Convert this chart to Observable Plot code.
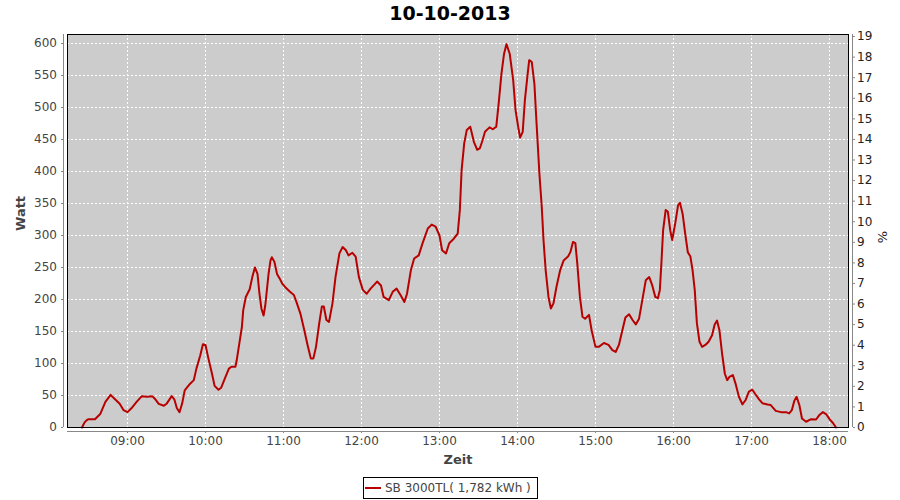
<!DOCTYPE html>
<html>
<head>
<meta charset="utf-8">
<script src="https://cdn.jsdelivr.net/npm/d3@7"></script>
<script src="https://cdn.jsdelivr.net/npm/@observablehq/plot@0.6"></script>
<style>
  html, body { margin: 0; padding: 0; background: #fff; }
  body { width: 900px; height: 500px; position: relative; overflow: hidden; font-family: "DejaVu Sans", sans-serif; }
  #title { position: absolute; left: 0; top: 0; width: 900px; height: 26px; line-height: 26px; text-align: center; font-weight: bold; font-size: 19px; color: #000; }
  #chart { position: absolute; left: 0; top: 28px; }
  #legend { position: absolute; left: 363px; top: 477px; width: 175px; height: 22px; box-sizing: border-box; border: 1px solid #000; font-size: 12px; color: #444; line-height: 20px; white-space: nowrap; }
  #legend .sw { display: inline-block; width: 16px; height: 2px; background: #b80000; vertical-align: middle; margin: 0 4px 0 1px; position: relative; top: -1px; }
</style>
</head>
<body>
<div id="title"></div>
<div id="chart"></div>
<div id="legend"><span class="sw"></span><span id="legendText"></span></div>
<script>
const chartTitle = "10-10-2013";
const seriesName = "SB 3000TL( 1,782 kWh )";
const xLabel = "Zeit";
const yLabel = "Watt";
const y2Label = "%";

const times = [
  "08:25:00","08:27:00","08:29:00","08:30:00","08:35:00","08:39:00","08:43:00","08:47:00","08:50:00","08:54:00",
  "08:57:00","09:00:00","09:03:00","09:07:00","09:11:00","09:15:00","09:19:00","09:21:00","09:24:00","09:28:00",
  "09:30:00","09:34:00","09:36:00","09:38:00","09:40:00","09:42:00","09:44:00","09:48:00","09:51:00","09:53:00",
  "09:56:00","09:58:00","10:00:00","10:02:00","10:05:00","10:07:00","10:10:00","10:12:00","10:15:00","10:18:00",
  "10:20:00","10:23:00","10:24:00","10:26:00","10:28:00","10:29:00","10:31:00","10:34:00","10:36:00","10:38:00",
  "10:40:00","10:41:30","10:43:00","10:44:40","10:46:00","10:48:30","10:50:00","10:51:00","10:53:00","10:55:00",
  "10:57:00","10:59:00","11:01:00","11:05:00","11:08:00","11:10:00","11:13:00","11:16:00","11:18:30","11:21:00",
  "11:23:00","11:25:00","11:27:30","11:29:30","11:31:00","11:33:00","11:35:00","11:37:40","11:40:00","11:43:00",
  "11:45:30","11:48:00","11:50:00","11:53:00","11:55:30","11:58:00","12:01:00","12:04:00","12:07:00","12:12:00",
  "12:15:00","12:17:00","12:21:00","12:24:00","12:27:00","12:30:00","12:33:00","12:35:00","12:38:00","12:40:30",
  "12:44:00","12:47:00","12:51:00","12:54:00","12:57:00","13:00:00","13:02:00","13:05:00","13:07:30","13:11:00",
  "13:14:00","13:15:40","13:17:00","13:19:00","13:21:00","13:23:40","13:26:30","13:29:00","13:31:00","13:33:00",
  "13:35:00","13:38:30","13:41:00","13:43:40","13:45:30","13:47:40","13:49:40","13:51:30","13:54:00","13:56:40",
  "13:58:30","14:00:30","14:02:00","14:04:00","14:05:40","14:07:50","14:09:00","14:11:00","14:13:00","14:14:40",
  "14:16:50","14:18:40","14:20:00","14:21:40","14:23:50","14:25:40","14:27:40","14:30:00","14:32:50","14:35:30",
  "14:38:50","14:40:40","14:42:40","14:44:30","14:46:00","14:48:00","14:50:00","14:52:00","14:55:00","14:57:00",
  "15:00:00","15:02:30","15:06:30","15:10:00","15:13:00","15:15:30","15:18:00","15:20:40","15:23:00","15:25:50",
  "15:28:30","15:31:00","15:33:30","15:36:00","15:38:40","15:41:20","15:43:40","15:46:00","15:48:00","15:49:30",
  "15:50:40","15:52:00","15:54:00","15:55:40","15:57:30","15:59:00","16:01:20","16:03:30","16:05:00","16:07:00",
  "16:09:00","16:11:00","16:13:00","16:14:40","16:16:20","16:18:00","16:20:00","16:22:00","16:24:30","16:27:00",
  "16:29:40","16:31:40","16:33:30","16:35:20","16:37:20","16:39:30","16:41:20","16:43:00","16:45:40","16:47:40",
  "16:50:20","16:53:00","16:55:30","16:58:00","17:00:40","17:03:00","17:05:50","17:08:20","17:12:20","17:14:50",
  "17:18:40","17:22:40","17:26:30","17:29:00","17:31:00","17:33:00","17:34:40","17:36:50","17:38:50","17:42:00",
  "17:45:50","17:49:40","17:52:00","17:54:50","17:57:20","18:00:00","18:02:40","18:05:00"
];
const watts = [
  0,8,12,13,13,21,40,51,45,37,
  27,24,30,40,49,48,49,45,37,34,
  37,49,44,30,24,37,58,68,74,92,
  113,130,129,110,84,65,59,62,77,92,
  95,95,105,131,157,183,204,216,235,250,
  240,209,186,175,191,240,261,266,259,240,
  233,225,220,212,207,196,178,152,129,108,
  108,126,163,189,189,168,165,194,235,272,
  282,277,269,273,267,235,215,209,217,228,
  222,204,199,212,217,207,196,209,246,264,
  269,288,311,317,314,300,277,272,288,295,
  303,340,402,444,465,470,446,434,436,448,
  462,469,466,470,506,553,584,599,584,543,
  496,470,453,462,511,553,574,571,537,475,
  397,345,293,246,204,186,194,220,246,261,
  267,274,290,288,256,204,173,170,176,152,
  126,126,132,129,121,118,129,152,172,177,
  168,161,170,199,230,235,222,204,202,215,
  256,308,340,337,308,293,319,347,351,334,
  303,274,267,246,215,163,134,126,129,134,
  144,161,167,152,116,84,74,79,82,69,
  48,36,43,56,59,52,44,38,36,35,
  26,24,24,22,27,42,48,35,14,9,
  13,12.5,19,24,21,13,7,0
];
const hourTicks = [9,10,11,12,13,14,15,16,17,18];
const wattTicks = [0,50,100,150,200,250,300,350,400,450,500,550,600];
const pctTicks = [0,1,2,3,4,5,6,7,8,9,10,11,12,13,14,15,16,17,18,19];

const toHours = s => { const [h,m,sec] = s.split(":").map(Number); return h + m/60 + (sec||0)/3600; };
const data = times.map((t,i) => ({t: toHours(t), w: watts[i]}));

// frame: x 67..848 (78 px per hour, 09:00 at 127), y 34..427 (0.64 px per W)
const xDomain = [9 - 60/78, 18 + 19/78];
const yDomain = [0, 393/0.64];
const pctTop = 19.1;
const factor = yDomain[1] / pctTop;
const hhmm = h => String(h).padStart(2,"0") + ":00";
const gray = "#888888";
const tickText = "#444444";

document.getElementById("title").textContent = chartTitle;
document.getElementById("legendText").textContent = seriesName;

const chart = Plot.plot({
  width: 900,
  height: 442,
  marginLeft: 67,
  marginRight: 52,
  marginTop: 6,
  marginBottom: 43,
  style: {fontFamily: "DejaVu Sans, sans-serif", fontSize: "12px", background: "white"},
  x: {type: "linear", domain: xDomain},
  y: {type: "linear", domain: yDomain},
  marks: [
    Plot.frame({fill: "#cccccc", stroke: null}),
    Plot.gridX(hourTicks, {stroke: "white", strokeOpacity: 1, strokeDasharray: "2,2"}),
    Plot.gridY(wattTicks, {stroke: "white", strokeOpacity: 1, strokeDasharray: "2,2"}),
    Plot.line(data, {x: "t", y: "w", stroke: "#b80000", strokeWidth: 2}),
    Plot.frame({stroke: "#000", strokeWidth: 1}),
    Plot.ruleX([xDomain[0]], {dx: -4, stroke: gray}),
    Plot.ruleX([xDomain[1]], {dx: 4, stroke: gray}),
    Plot.ruleY([0], {dy: 4, stroke: gray}),
    Plot.axisY(wattTicks, {anchor: "left", dx: -4, tickSize: 2, tickPadding: 4.5, stroke: gray, fill: tickText, fontSize: 12, label: null}),
    Plot.axisY(pctTicks.map(p => p * factor), {anchor: "right", dx: 4, tickSize: 2, tickPadding: 2.5, stroke: gray, fill: "#222", fontSize: 12, tickFormat: d => String(Math.round(d / factor)), label: null}),
    Plot.axisX(hourTicks, {anchor: "bottom", dy: 4, tickSize: 2, tickPadding: 3, stroke: gray, fill: tickText, fontSize: 12, tickFormat: hhmm, label: null}),
    Plot.text([yLabel], {frameAnchor: "left", rotate: -90, dx: -47, fontWeight: "bold", fontSize: 13, fill: tickText}),
    Plot.text([y2Label], {frameAnchor: "right", rotate: -90, dx: 34, fontSize: 13, fill: "#222"}),
    Plot.text([xLabel], {frameAnchor: "bottom", lineAnchor: "middle", dy: 32, fontWeight: "bold", fontSize: 13, fill: tickText})
  ]
});
document.getElementById("chart").appendChild(chart);
</script>
</body>
</html>
